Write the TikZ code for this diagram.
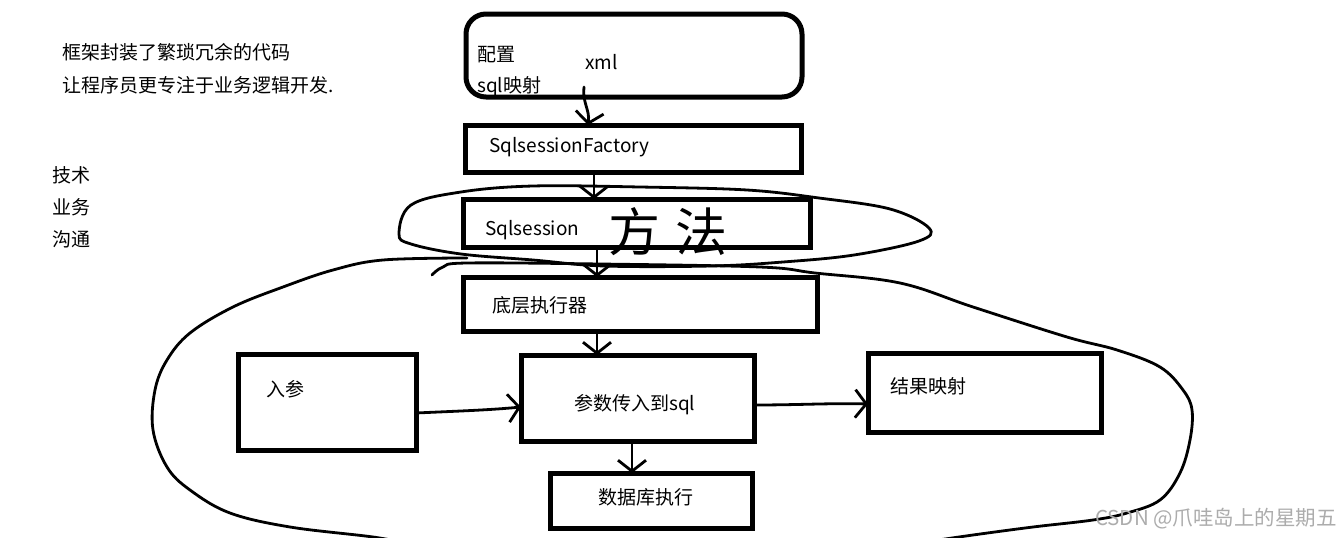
\documentclass[tikz,border=0pt]{standalone}
\usepackage{fontspec}
\setmainfont{Noto Sans CJK SC}
\usetikzlibrary{arrows.meta}
\begin{document}
\begin{tikzpicture}[x=1pt,y=-1pt,
  box/.style={draw, line width=5pt, inner sep=0pt, outer sep=0pt},
  txt/.style={anchor=west, inner sep=0pt, font=\fontsize{19}{23}\selectfont},
  hand/.style={line width=2.8pt, line cap=round, line join=round},
  arr/.style={hand, -{Straight Barb[length=11pt,width=28pt]}}
]
\fill[white] (0,0) rectangle (1342,538);
\useasboundingbox (0,0) rectangle (1342,538);

% left notes
\node[txt] (t1) at (62,52.5) {框架封装了繁琐冗余的代码};
\node[txt] (t2) at (62,85) {让程序员更专注于业务逻辑开发.};
\node[txt] (t3) at (52,175) {技术};
\node[txt] (t4) at (52,207) {业务};
\node[txt] (t5) at (52,239) {沟通};

% boxes
\node[box, rounded corners=20pt, minimum width=336pt, minimum height=83pt] (xmlbox) at (634,55.5) {};
\node[box, minimum width=336pt, minimum height=47pt] (SF) at (633,148.5) {};
\node[box, minimum width=347pt, minimum height=48pt] (SS) at (636.5,223) {};
\node[box, minimum width=354pt, minimum height=54pt] (DC) at (640,304) {};
\node[box, minimum width=178pt, minimum height=96pt] (RC) at (327,402) {};
\node[box, minimum width=233pt, minimum height=86pt] (CS) at (637.5,398) {};
\node[box, minimum width=233pt, minimum height=79pt] (JG) at (984.5,392.5) {};
\node[box, minimum width=202pt, minimum height=55pt] (SJ) at (651,500.5) {};

% texts in boxes
\node[txt] (pz) at (477,55) {配置};
\node[txt] (sy) at (477,87) {sql映射};
\node[txt] (xml) at (585,62) {xml};
\node[txt] (sft) at (489,147) {SqlsessionFactory};
\node[txt] (sst) at (485,230) {Sqlsession};
\node[txt] (dct) at (492,305) {底层执行器};
\node[txt] (rct) at (266,389) {入参};
\node[txt] (cst) at (574,405) {参数传入到sql};
\node[txt] (jgt) at (890,386) {结果映射};
\node[txt] (sjt) at (598,497) {数据库执行};

% handwritten word
\node[inner sep=0pt, font=\fontsize{52}{52}\selectfont] (ff) at (668,232) {方\hspace{16pt}法};

% connectors
\coordinate (xs) at (584,87);
\coordinate (a1) at (594,0);
\coordinate (a2) at (597,0);
\coordinate (a3) at (632,0);
\draw[arr] (xs) .. controls (582,102) and (590,110) .. ([xshift=-45pt]SF.north);
\draw[arr] (SF.south -| a1) -- (SS.north -| a1);
\draw[arr] (SS.south -| a2) -- (DC.north -| a2);
\draw[arr] (DC.south -| a2) -- (CS.north -| a2);
\draw[arr] ([yshift=-11pt]RC.east) .. controls (460,411) and (490,410) .. ([yshift=-9pt]CS.west);
\draw[arr] ([yshift=-7pt]CS.east) .. controls (800,405) and (830,403) .. ([yshift=-11.5pt]JG.west);
\draw[arr] (CS.south -| a3) -- (SJ.north -| a3);

% lasso around Sqlsession
\draw[hand] plot[smooth cycle, tension=0.6] coordinates {(399,234) (411,205) (461,192) (533,186) (640,187) (747,190) (819,198) (890,209) (929,228) (919,241) (854,255) (783,262) (711,266) (604,266) (533,260) (461,254) (411,244)};

% big loop
\draw[hand] plot[smooth, tension=0.6] coordinates {(467,258) (383,260) (333,270) (283,287) (233,307) (190,333) (167,360) (155,390) (153,430) (167,467) (190,490) (230,513) (290,527) (373,537) (410,544)};
\draw[hand] plot[smooth, tension=0.6] coordinates {(432,275) (443,267) (467,263) (600,264) (760,267) (815,273) (900,283) (973,307) (1067,337) (1117,350) (1160,367) (1183,390) (1192,410) (1190,440) (1180,473) (1160,500) (1127,513) (1093,520) (1033,527) (973,535) (925,542)};

% watermark
\node[anchor=west, inner sep=0pt, text=gray!65, font=\fontsize{20.5}{24}\selectfont] (wm) at (1095,519) {CSDN @爪哇岛上的星期五};
\end{tikzpicture}
\end{document}
